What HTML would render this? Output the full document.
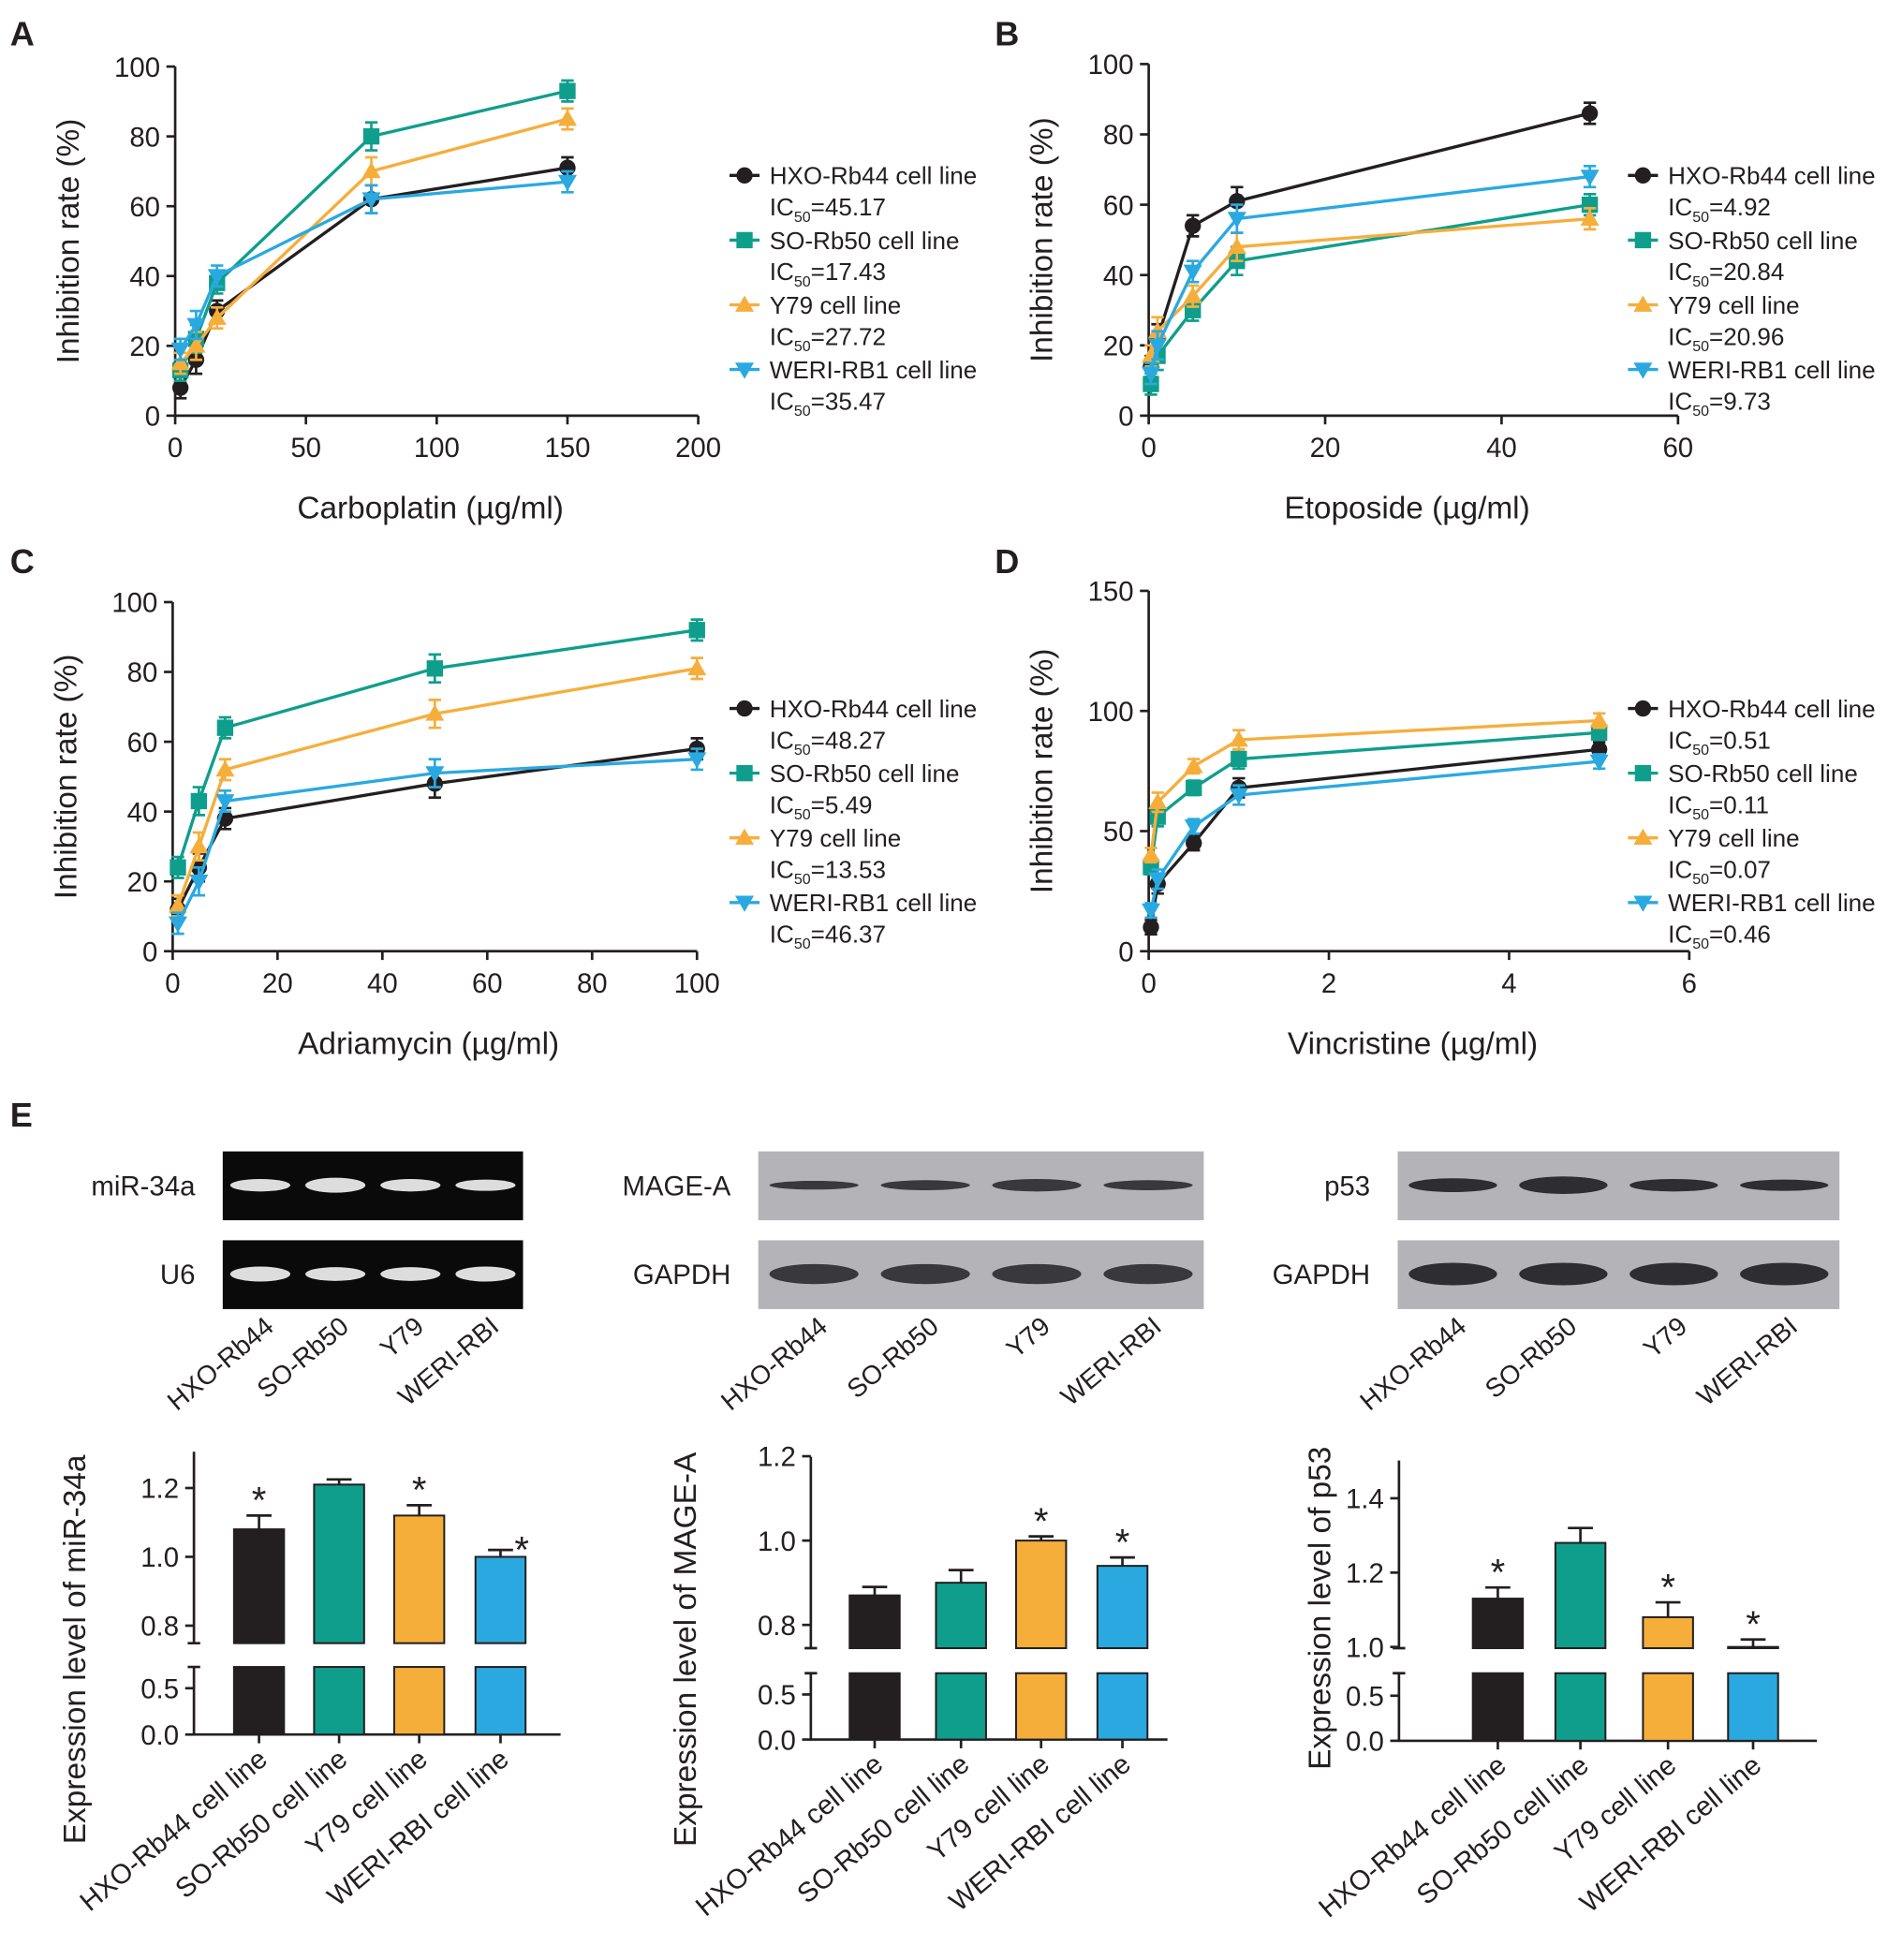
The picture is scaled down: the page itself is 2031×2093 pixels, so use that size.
<!DOCTYPE html>
<html><head><meta charset="utf-8"><style>
html,body{margin:0;padding:0;background:#fff;}
svg{display:block;font-family:"Liberation Sans",Arial,sans-serif;}
</style></head><body>
<svg id="fig" width="2031" height="2093" viewBox="0 0 1520 1566" xmlns="http://www.w3.org/2000/svg">
<rect width="1520" height="1566" fill="#fff"/>
</svg>
<script>
// ---------- Data ----------
const seriesNames = ["HXO-Rb44 cell line","SO-Rb50 cell line","Y79 cell line","WERI-RB1 cell line"];
const seriesColors = ["#231f20","#0f9e8c","#f6ae3b","#2aa9e0"];
const seriesMarkers = ["circle","square","triUp","triDown"];

const xA = [2,8,16,75,150];
const A_hxo = [8,16,30,62,71];
const A_so = [13,22,38,80,93];
const A_y79 = [15,20,28,70,85];
const A_weri = [19,26,40,62,67];
const A_ic50 = ["45.17","17.43","27.72","35.47"];

const xB = [0.25,1,5,10,50];
const B_hxo = [14,22,54,61,86];
const B_so = [9,17,30,44,60];
const B_y79 = [17,24,34,48,56];
const B_weri = [12,20,41,56,68];
const B_ic50 = ["4.92","20.84","20.96","9.73"];

const xC = [1,5,10,50,100];
const C_hxo = [12,24,38,48,58];
const C_so = [24,43,64,81,92];
const C_y79 = [13,30,52,68,81];
const C_weri = [8,20,43,51,55];
const C_ic50 = ["48.27","5.49","13.53","46.37"];

const xD = [0.025,0.1,0.5,1,5];
const D_hxo = [10,28,45,68,84];
const D_so = [35,56,68,80,91];
const D_y79 = [40,62,77,88,96];
const D_weri = [17,30,52,65,79];
const D_ic50 = ["0.51","0.11","0.07","0.46"];

const barCats = ["HXO-Rb44 cell line","SO-Rb50 cell line","Y79 cell line","WERI-RBI cell line"];
const mir34a = [1.08,1.21,1.12,1.00];
const mir34aErr = [0.04,0.015,0.03,0.02];
const mageA = [0.87,0.90,1.00,0.94];
const mageAErr = [0.02,0.03,0.01,0.02];
const p53 = [1.13,1.28,1.08,1.00];
const p53Err = [0.03,0.04,0.04,0.02];
const sigStar = [true,false,true,true];
const sigStarM = [false,false,true,true];
const laneLabels = ["HXO-Rb44","SO-Rb50","Y79","WERI-RBI"];

// ---------- Helpers ----------
const svg = document.getElementById('fig');
const NS = "http://www.w3.org/2000/svg";
function el(tag, attrs, parent){
  const e = document.createElementNS(NS, tag);
  for (const k in attrs) e.setAttribute(k, attrs[k]);
  (parent||svg).appendChild(e);
  return e;
}
function txt(s, x, y, size, anchor, parent, extra){
  const t = el('text', Object.assign({x:x, y:y, 'font-size':size, 'text-anchor':anchor||'start', fill:'#231f20'}, extra||{}), parent);
  t.textContent = s;
  return t;
}
function marker(g, type, x, y, color){
  const r = 6.5;
  let m;
  if (type==='circle') m = el('circle',{cx:x,cy:y,r:r,fill:color},g);
  else if (type==='square') m = el('rect',{x:x-r,y:y-r,width:2*r,height:2*r,fill:color},g);
  else if (type==='triUp') m = el('polygon',{points:`${x},${y-r-1} ${x-r-1},${y+r-1} ${x+r+1},${y+r-1}`,fill:color},g);
  else m = el('polygon',{points:`${x},${y+r+1} ${x-r-1},${y-r+1} ${x+r+1},${y-r+1}`,fill:color},g);
  return m;
}

function lineChart(p){
  const g = el('g',{});
  
  
  const sx = v => p.x0 + (v - p.xmin)/(p.xmax - p.xmin)*(p.x1 - p.x0);
  const sy = v => p.y0 - (v - p.ymin)/(p.ymax - p.ymin)*(p.y0 - p.y1);
  const ax = el('path',{d:`M${p.x0},${p.y1} V${p.y0} H${p.x1}`,stroke:'#231f20','stroke-width':2,fill:'none'},g);
  
  
  p.yticks.forEach(v=>{
    el('line',{x1:p.x0-7,x2:p.x0,y1:sy(v),y2:sy(v),stroke:'#231f20','stroke-width':2},g);
    const t = txt(String(v), p.x0-12, sy(v)+8, 22, 'end', g);
    
    
  });
  p.xticks.forEach(v=>{
    el('line',{x1:sx(v),x2:sx(v),y1:p.y0,y2:p.y0+7,stroke:'#231f20','stroke-width':2},g);
    const t = txt(String(v), sx(v), p.y0+33, 22, 'middle', g);
    
    
  });
  const yt = txt("Inhibition rate (%)", 0, 0, 25, 'middle', g, {transform:`translate(${p.x0-77},${(p.y0+p.y1)/2}) rotate(-90)`});
  
  
  const xt = txt(p.xtitle, (p.x0+p.x1)/2 - 5, p.y0+82, 25, 'middle', g);
  
  
  const pl = txt(p.letter, p.lx, p.ly, 27, 'start', g, {'font-weight':'bold'});
  
  
  p.series.forEach((ys, si)=>{
    const c = seriesColors[si];
    const sg = el('g',{},g);
    
    
    const d = ys.map((v,i)=>(i?'L':'M')+sx(p.xs[i])+','+sy(v)).join(' ');
    el('path',{d:d,stroke:c,'stroke-width':2.5,fill:'none'},sg);
    ys.forEach((v,i)=>{
      const e = 3 + (i%2);
      const x = sx(p.xs[i]);
      el('path',{d:`M${x},${sy(v-e)}V${sy(v+e)} M${x-5},${sy(v+e)}H${x+5} M${x-5},${sy(v-e)}H${x+5}`,stroke:c,'stroke-width':2,fill:'none'},sg);
      const m = marker(sg, seriesMarkers[si], x, sy(v), c);
      
      
    });
    const ly = p.legY + si*51.7;
    const lg = el('g',{},g);
    
    
    el('line',{x1:p.legX-12,x2:p.legX+12,y1:ly,y2:ly,stroke:c,'stroke-width':2.5},lg);
    marker(lg, seriesMarkers[si], p.legX, ly, c);
    txt(seriesNames[si], p.legX+20, ly+7, 19.5, 'start', lg);
    const ic = txt('', p.legX+20, ly+32, 19.5, 'start', lg);
    ic.innerHTML = 'IC<tspan font-size="12" dy="5">50</tspan><tspan dy="-5">=' + p.ic50[si] + '</tspan>';
  });
}

lineChart({name:'chart-a',letter:'A',lx:8,ly:36,x0:140,x1:558,y0:332,y1:53,xmin:0,xmax:200,ymin:0,ymax:100,
  xticks:[0,50,100,150,200],yticks:[0,20,40,60,80,100],xs:xA,series:[A_hxo,A_so,A_y79,A_weri],
  xtitle:'Carboplatin (µg/ml)',legX:595,legY:140,ic50:A_ic50});
lineChart({name:'chart-b',letter:'B',lx:795,ly:36,x0:918,x1:1341,y0:332,y1:51,xmin:0,xmax:60,ymin:0,ymax:100,
  xticks:[0,20,40,60],yticks:[0,20,40,60,80,100],xs:xB,series:[B_hxo,B_so,B_y79,B_weri],
  xtitle:'Etoposide (µg/ml)',legX:1313,legY:140,ic50:B_ic50});
lineChart({name:'chart-c',letter:'C',lx:8,ly:458,x0:138,x1:557,y0:760,y1:481,xmin:0,xmax:100,ymin:0,ymax:100,
  xticks:[0,20,40,60,80,100],yticks:[0,20,40,60,80,100],xs:xC,series:[C_hxo,C_so,C_y79,C_weri],
  xtitle:'Adriamycin (µg/ml)',legX:595,legY:566,ic50:C_ic50});
lineChart({name:'chart-d',letter:'D',lx:795,ly:458,x0:918,x1:1350,y0:760,y1:472,xmin:0,xmax:6,ymin:0,ymax:150,
  xticks:[0,2,4,6],yticks:[0,50,100,150],xs:xD,series:[D_hxo,D_so,D_y79,D_weri],
  xtitle:'Vincristine (µg/ml)',legX:1313,legY:566,ic50:D_ic50});

// ---------- Panel E ----------
const eL = txt('E', 8, 900, 27, 'start', svg, {'font-weight':'bold'});



function blot(p){
  const g = el('g',{});
  
  
  [[920,p.top],[991,p.bot]].forEach((r,ri)=>{
    el('rect',{x:p.x0,y:r[0],width:p.x1-p.x0,height:55,fill:p.bg},g);
    const t = txt(r[1], p.x0-22, r[0]+35, 22, 'end', g);
    
    
    const lw = (p.x1-p.x0)/4;
    for(let i=0;i<4;i++){
      const cx = p.x0 + lw*(i+0.5);
      const th = ri===0 ? p.thick[i] : p.thick2[i];
      el('ellipse',{cx:cx,cy:r[0]+27,rx:lw*0.4,ry:th,fill:p.band,opacity:0.9},g);
    }
  });
  const lw = (p.x1-p.x0)/4;
  laneLabels.forEach((s,i)=>{
    const cx = p.x0 + lw*(i+0.5) + 12;
    const t = txt(s, 0, 0, 21, 'end', g, {transform:`translate(${cx},${1062}) rotate(-40)`});
    
    
  });
}
blot({name:'gel-mir34a',x0:178,x1:418,bg:'#0a0a0a',band:'#f4f4f4',top:'miR-34a',bot:'U6',thick:[5,6,5,4.5],thick2:[6,5.5,5.5,6]});
blot({name:'blot-mage-a',x0:606,x1:962,bg:'#b3b3b8',band:'#2a2a30',top:'MAGE-A',bot:'GAPDH',thick:[3.5,4,5,4],thick2:[8,8,8,8]});
blot({name:'blot-p53',x0:1117,x1:1470,bg:'#b3b3b8',band:'#1e1e24',top:'p53',bot:'GAPDH',thick:[5.5,7,5,4.5],thick2:[9,9,9,9]});

function barChart(p){
  const g = el('g',{});
  
  
  const syT = v => p.tRefY - (v - p.tRefV)*p.tScale;
  const syB = v => p.y0 - v*p.bScale;
  el('path',{d:`M${p.x0},${p.axTop} V${p.tBot} M${p.x0-5},${p.tBot}H${p.x0+5} M${p.x0-5},${p.bTop}H${p.x0+5} M${p.x0},${p.bTop} V${p.y0} H${p.x1}`,stroke:'#231f20','stroke-width':2,fill:'none'},g);
  p.tTicks.forEach(v=>{
    el('line',{x1:p.x0-7,x2:p.x0,y1:syT(v),y2:syT(v),stroke:'#231f20','stroke-width':2},g);
    const t = txt(v.toFixed(1), p.x0-12, syT(v)+8, 22, 'end', g);
    
    
  });
  p.bTicks.forEach(v=>{
    el('line',{x1:p.x0-7,x2:p.x0,y1:syB(v),y2:syB(v),stroke:'#231f20','stroke-width':2},g);
    const t = txt(v.toFixed(1), p.x0-12, syB(v)+8, 22, 'end', g);
    
    
  });
  p.vals.forEach((v,i)=>{
    const cx = p.centers[i], w = 40;
    const b1 = el('rect',{x:cx-w/2,y:p.bTop,width:w,height:p.y0-p.bTop,fill:seriesColors[i],stroke:'#231f20','stroke-width':1.5},g);
    
    
    const b2 = el('rect',{x:cx-w/2,y:syT(v),width:w,height:p.tBot-syT(v),fill:seriesColors[i],stroke:'#231f20','stroke-width':1.5},g);
    
    
    const ey = syT(v+p.errs[i]);
    el('path',{d:`M${cx},${syT(v)}V${ey} M${cx-10},${ey}H${cx+10}`,stroke:'#231f20','stroke-width':2},g);
    el('line',{x1:cx,x2:cx,y1:p.y0,y2:p.y0+7,stroke:'#231f20','stroke-width':2},g);
    if (p.stars[i]){
      const sx = (i===3 && p.starOffset) ? cx+17 : cx;
      const s = txt('*', sx, ey+ (i===3 && p.starOffset ? 10 : -2), 30, 'middle', g);
      
      
    }
    const t = txt(barCats[i], 0, 0, 22, 'end', g, {transform:`translate(${cx+8},${p.y0+22}) rotate(-40)`});
    
    
  });
  const yt = txt(p.ytitle, 0, 0, 25, 'middle', g, {transform:`translate(${p.ytx},${p.yty}) rotate(-90)`});
  
  
}
barChart({name:'bar-mir34a',x0:155,x1:448,y0:1386,axTop:1160,tBot:1313,bTop:1332,tRefY:1244,tRefV:1.0,tScale:275,bScale:74,
  tTicks:[0.8,1.0,1.2],bTicks:[0.0,0.5],vals:mir34a,errs:mir34aErr,stars:sigStar,starOffset:true,centers:[207,271,335,400],
  ytitle:'Expression level of miR-34a',ytx:68,yty:1318});
barChart({name:'bar-mage-a',x0:648,x1:933,y0:1390,axTop:1164,tBot:1317,bTop:1337,tRefY:1231,tRefV:1.0,tScale:337,bScale:72,
  tTicks:[0.8,1.0,1.2],bTicks:[0.0,0.5],vals:mageA,errs:mageAErr,stars:sigStarM,starOffset:false,centers:[699,768,832,897],
  ytitle:'Expression level of MAGE-A',ytx:556,yty:1318});
barChart({name:'bar-p53',x0:1118,x1:1452,y0:1391,axTop:1167,tBot:1317,bTop:1337,tRefY:1316,tRefV:1.0,tScale:297,bScale:72,
  tTicks:[1.0,1.2,1.4],bTicks:[0.0,0.5],vals:p53,errs:p53Err,stars:sigStar,starOffset:false,centers:[1197,1263,1333,1401],
  ytitle:'Expression level of p53',ytx:1063,yty:1285});
</script>
</body></html>
